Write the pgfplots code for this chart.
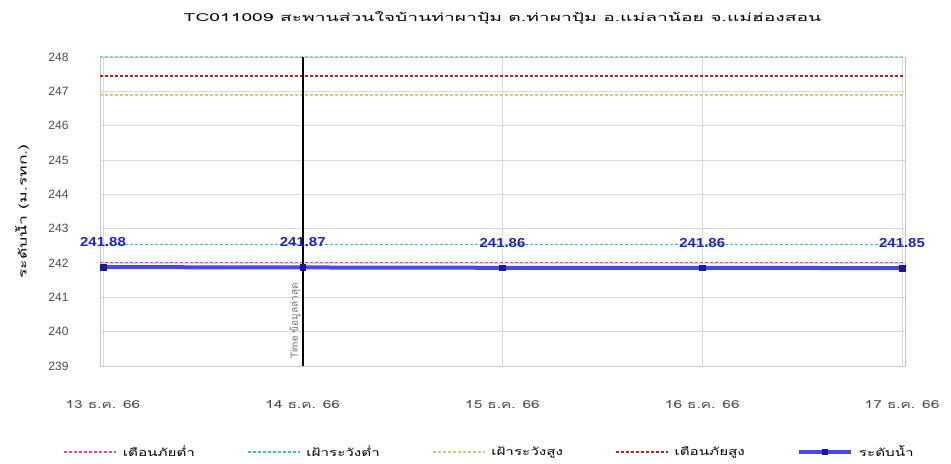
\documentclass[border=0pt]{standalone}
\usepackage{fontspec}
\setmainfont{Liberation Sans}
\newfontfamily\thaifont[Script=Thai]{Loma}
\usepackage{pgfplots}
\pgfplotsset{compat=1.18}
\usetikzlibrary{calc}
\definecolor{cMag}{HTML}{E040E0}
\definecolor{cCyan}{HTML}{30C8C0}
\definecolor{cTop}{HTML}{8ED4D4}
\definecolor{cYel}{HTML}{DCC878}
\definecolor{cRed}{HTML}{C02020}
\definecolor{cBlue}{HTML}{4848E8}
\definecolor{cNavy}{HTML}{1818A0}
\definecolor{cLab}{HTML}{2020C8}
\newcommand{\lt}[1]{\scalebox{1.45}[1]{#1}}
\begin{document}
\begin{tikzpicture}
\begin{axis}[
  name=ax,
  scale only axis, width=805pt, height=309pt,
  xmin=-0.015, xmax=4.015, ymin=239, ymax=248,
  xtick={0,1,2,3,4},
  xticklabels={{\thaifont 13 ธ.ค. 66},{\thaifont 14 ธ.ค. 66},{\thaifont 15 ธ.ค. 66},{\thaifont 16 ธ.ค. 66},{\thaifont 17 ธ.ค. 66}},
  ytick={239,240,...,248},
  grid=major, major grid style={gray!30, line width=0.6pt},
  axis line style={gray!45}, tick style={draw=none},
  tick label style={font=\fontsize{11}{13}\selectfont, text=black!70},
  /pgf/number format/assume math mode=true,
  xticklabel style={yshift=-31pt, xscale=1.4},
  yticklabel style={xshift=-28pt, font=\fontsize{12}{14}\selectfont},
  every axis y label/.style={at={(rel axis cs:0,0.5)}, rotate=90, anchor=center, yshift=78pt, xscale=1.6},
  ylabel={\thaifont\fontsize{11}{13}\selectfont ระดับน้ำ (ม.รทก.)},
  every axis title/.style={at={(rel axis cs:0.5,1)}, anchor=center, yshift=39pt, xscale=1.75},
  title={\thaifont\fontsize{11}{13}\selectfont TC011009 สะพานส่วนใจบ้านท่าผาปุ้ม ต.ท่าผาปุ้ม อ.แม่ลาน้อย จ.แม่ฮ่องสอน},
  clip=false,
  legend columns=5,
  legend style={draw=none, fill=none, at={(0.484,-0.278)}, anchor=center,
    font=\thaifont\fontsize{10.5}{12}\selectfont,
    /tikz/every odd column/.append style={column sep=4pt},
    /tikz/every even column/.append style={column sep=50pt}},
  legend image code/.code={\draw[mark repeat=2,mark phase=2,#1] plot coordinates {(0pt,0pt) (26pt,0pt) (52pt,0pt)};},
]
\addplot[cMag, line width=1.5pt, dash pattern=on 3pt off 2pt] coordinates {(-0.015,242.02) (4.015,242.02)};
\addlegendentry{\lt{เตือนภัยต่ำ}}
\addplot[cCyan, line width=1.4pt, dash pattern=on 3pt off 2pt] coordinates {(-0.015,242.53) (4.015,242.53)};
\addlegendentry{\lt{เฝ้าระวังต่ำ}}
\addplot[cYel, line width=1.5pt, dash pattern=on 3pt off 2pt] coordinates {(-0.015,246.9) (4.015,246.9)};
\addlegendentry{\lt{เฝ้าระวังสูง}}
\addplot[cRed, line width=1.5pt, dash pattern=on 3pt off 2pt] coordinates {(-0.015,247.45) (4.015,247.45)};
\addlegendentry{\lt{เตือนภัยสูง}}
\addplot[cBlue, line width=4pt, mark=square*, mark size=2.8pt, mark options={draw=cNavy, fill=cNavy, line width=0.5pt, solid},
  nodes near coords, every node near coord/.append style={font=\bfseries\fontsize{13}{15}\selectfont, text=cLab, yshift=17pt, xscale=1.15}]
  coordinates {(0,241.88) (1,241.87) (2,241.86) (3,241.86) (4,241.85)};
\addlegendentry{\lt{ระดับน้ำ}}
\addplot[cTop, line width=1.2pt, dash pattern=on 3pt off 2pt, forget plot] coordinates {(-0.015,248) (4.015,248)};
\addplot[black, line width=2.2pt, forget plot] coordinates {(1,239) (1,248)};
\node[rotate=90, anchor=south west, font=\thaifont\fontsize{10}{12}\selectfont, text=black!55, inner sep=2pt] at (axis cs:1,239.15) {Time ข้อมูลล่าสุด};
\end{axis}
\path ($(ax.south west)+(-100pt,-98pt)$) rectangle ($(ax.north east)+(46pt,57pt)$);
\end{tikzpicture}
\end{document}
